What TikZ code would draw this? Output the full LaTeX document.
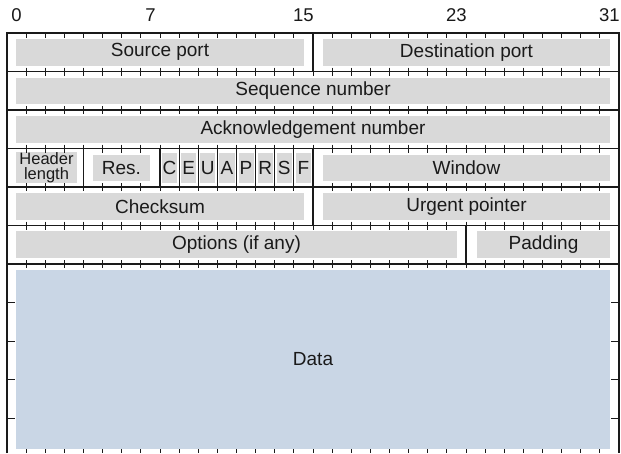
\documentclass[tikz,border=0pt]{standalone}
\usepackage{fontspec}
\setmainfont{Liberation Sans}
\definecolor{fieldgray}{HTML}{D9D9D9}
\definecolor{datablue}{HTML}{C9D6E5}
\definecolor{ink}{HTML}{1A1A1A}

% a gray field box given by its corners (x1,y1) and (x2,y2)
\newcommand\tcpfield[7][fieldbox]{%
  \pgfmathsetmacro\fw{(#5)-(#3)}%
  \pgfmathsetmacro\fh{(#6)-(#4)}%
  \node[#1, minimum width=\fw pt, minimum height=\fh pt] (#2)
    at ({((#3)+(#5))/2},{((#4)+(#6))/2}) {#7};}

\begin{document}
\begin{tikzpicture}[x=1pt, y=-1pt,
  fieldbox/.style={fill=fieldgray, inner sep=0pt, text=ink,
    font=\fontsize{19}{22}\selectfont},
  databox/.style={fieldbox, fill=datablue},
  smallbox/.style={fieldbox, align=center,
    font=\fontsize{16.5}{15.5}\selectfont},
  bitnum/.style={anchor=base, text=ink, inner sep=0pt,
    font=\fontsize{18.5}{21}\selectfont},
  frameline/.style={draw=ink, line width=1.2pt},
  tick/.style={draw=ink, line width=0.9pt}]
\useasboundingbox (0,0) rectangle (621,453);

% bit numbers across the top
\foreach \b in {0,7,15,23,31}
  \node[bitnum] (n\b) at ({7+(\b+0.5)*19.125},21.5) {\b};

% fields
\tcpfield{src}{16}{39}{304}{65.5}{Source port}
\tcpfield{dst}{323}{39}{610}{65.5}{Destination port}
\tcpfield{seq}{16}{77.5}{610}{104}{Sequence number}
\tcpfield{ack}{16}{116}{610}{142.5}{Acknowledgement number}
\tcpfield[smallbox]{hlen}{16}{152}{77}{183}{Header\\length}
\tcpfield{res}{93}{154.5}{150}{181}{Res.}
\foreach \f [count=\i from 8] in {C,E,U,A,P,R,S,F}
  \tcpfield{flag\f}{7+\i*19.125+2}{152.5}{7+(\i+1)*19.125-2}{183}{\f};
\tcpfield{win}{323}{154.5}{610}{181}{Window}
\tcpfield{chk}{16}{193}{304}{219.5}{Checksum}
\tcpfield{urg}{323}{193}{610}{219.5}{Urgent pointer}
\tcpfield{opt}{16}{231}{457}{257.5}{Options (if any)}
\tcpfield{pad}{477}{231}{610}{257.5}{Padding}
\tcpfield[databox]{data}{16}{269.5}{610}{449}{Data}

% outer frame and row lines
\draw[frameline] (7,453) -- (7,33) -- (619,33) -- (619,453);
\foreach \y in {71.5,110,148.5,187,225.5,264}
  \draw[frameline] (7,\y) -- (619,\y);

% field separators
\draw[frameline] (313,33) -- (313,71.5);
\foreach \b in {4,8,9,...,16}
  \draw[frameline] ({7+\b*19.125},148.5) -- ({7+\b*19.125},187);
\draw[frameline] (313,187) -- (313,225.5);
\draw[frameline] (466,225.5) -- (466,264);

% bit ticks on every row line
\foreach \b in {1,...,31}{
  \draw[tick] ({7+\b*19.125},33) -- ({7+\b*19.125},37.5);
  \draw[tick] ({7+\b*19.125},449) -- ({7+\b*19.125},453);
  \foreach \y in {71.5,110,148.5,187,225.5,264}
    \draw[tick] ({7+\b*19.125},\y-4) -- ({7+\b*19.125},\y+4);
}

% row ticks along the data area
\foreach \y in {302.5,341,379.5,418}{
  \draw[tick] (7,\y) -- (15,\y);
  \draw[tick] (611,\y) -- (619,\y);
}
\end{tikzpicture}
\end{document}
